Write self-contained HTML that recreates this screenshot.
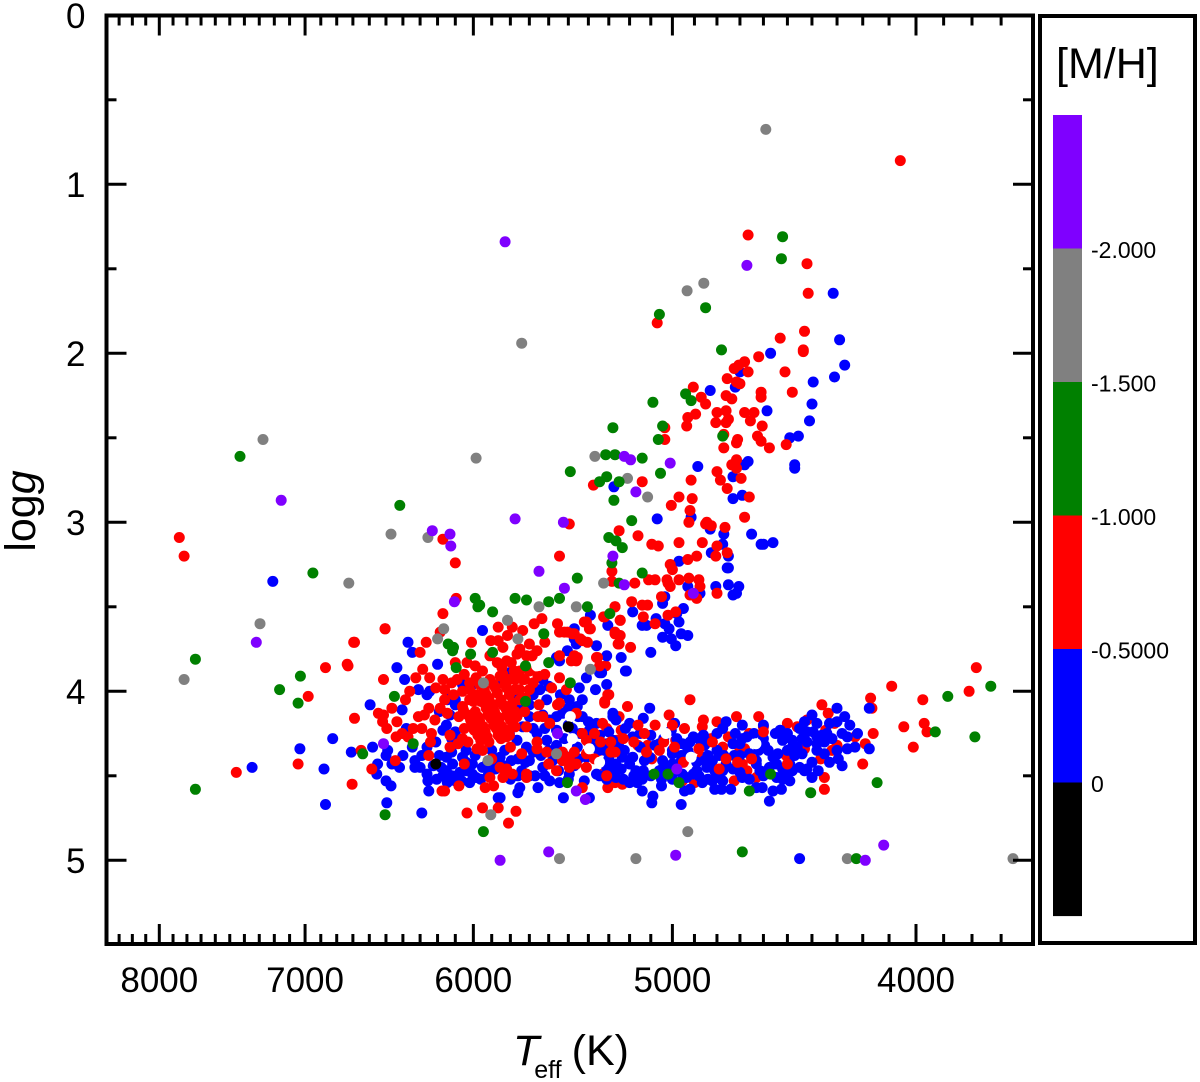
<!DOCTYPE html>
<html lang="en">
<head>
<meta charset="utf-8">
<title>Teff vs log g diagram</title>
<style>
html,body{margin:0;padding:0;background:#fff;}
svg{display:block;font-family:"Liberation Sans",Arial,sans-serif;}
</style>
</head>
<body>
<svg id="chart" width="1200" height="1082" viewBox="0 0 1200 1082" xmlns="http://www.w3.org/2000/svg">
  <rect x="0" y="0" width="1200" height="1082" fill="#fff"/>
  <g id="points"></g>
  <rect x="106.5" y="15.5" width="926.5" height="928.5" fill="none" stroke="#000" stroke-width="4"/>
  <g id="ticks"></g>
  <text transform="translate(35,511) rotate(-90)" text-anchor="middle" font-size="43">log<tspan font-style="italic">g</tspan></text>
  <text x="513" y="1065" font-size="43"><tspan font-style="italic">T</tspan><tspan font-size="25" dx="-5" dy="13">eff</tspan><tspan dx="10" dy="-13">(K)</tspan></text>
  <g>
    <rect x="1040" y="16" width="155" height="927" fill="#fff" stroke="#000" stroke-width="4"/>
    <text x="1056" y="78" font-size="43">[M/H]</text>
    <g id="legend"></g>
  </g>
</svg>
<script>
// ---- chart data ----
const xTickLabels = [8000, 7000, 6000, 5000, 4000];
const yTickLabels = [0, 1, 2, 3, 4, 5];
const legendLabels = ["-2.000", "-1.500", "-1.000", "-0.5000", "0"];
const legendColors = ["#7f00ff", "#808080", "#008000", "#ff0000", "#0000ff", "#000000"];

// Each entry: [Teff in K, log g]
const redDwarfBand = [[5195,3.74],[5255,3.72],[5315,3.85],[5305,4.02],[5320,4.07],[5210,4.09],[4920,4.05],[5015,4.14],[4860,4.17],[4865,4.21],[4800,4.18],[4715,4.15],[4620,4.15],[4600,4.21],[4660,4.25],[4360,4.08],[4335,4.13],[4500,4.19],[4460,4.21],[4420,4.17],[4310,4.19],[4345,4.23],[4230,4.27],[4190,4.31],[4160,4.25],[4170,4.04],[4090,3.97],[4300,4.32],[4320,4.35],[4365,4.4],[4430,4.34],[4200,4.43],[4350,4.51],[4350,4.58],[4505,4.38],[4825,4.28],[4775,4.33],[4750,4.27],[4700,4.35],[4680,4.34],[4690,4.43],[4670,4.47],[4630,4.51],[4725,4.53],[4945,4.22],[4865,4.39],[4900,4.54],[4955,4.53],[5080,4.2],[5115,4.32],[5160,4.32],[5095,4.4],[5240,4.23],[5250,4.15],[5310,4.22],[5260,4.29],[5345,4.35],[5275,4.36],[5330,4.49],[5305,4.57],[5270,4.54],[5235,4.55],[4985,4.29]];

const redOutliers = [[4058,0.86],[4665,1.30],[4420,1.47],[4415,1.645],[5070,1.82],[4430,1.87],[4530,1.91],[4435,1.99],[7855,3.09],[7820,3.2],[7455,4.48],[7045,4.43],[6980,4.03],[6870,3.86],[6735,3.84],[6695,3.71],[6505,3.63],[6095,3.45],[6100,3.24],[6170,3.1],[6705,4.55],[3785,3.86],[3810,4.0],[3975,4.05],[4045,4.21],[3970,4.19],[3960,4.24],[4010,4.33],[4165,4.1]];

const blueStars = [[4315,1.645],[4290,1.92],[7210,3.35],[7348,4.45],[7033,4.34],[6880,4.46],[6870,4.67],[4450,4.99],
[5100,3.77],[4985,3.73],[5240,3.8],[5310,3.79],[5220,3.88],[5310,3.96],[5345,3.89],[5280,4.15],[5200,4.19],[5135,4.16],[5105,4.1],[5185,4.27],[5280,4.29],[5265,4.43],[5310,4.45],[5185,4.39],[5135,4.47],[5050,4.56],[5090,4.62],[5095,4.66],[5140,4.59],[5200,4.54],[5165,4.54],[4990,4.19],[5005,4.23],[4955,4.31],[4905,4.27],[5060,4.31],[5045,4.41],[5000,4.37],[5030,4.47],[4955,4.49],[4905,4.49],[4935,4.51],[4875,4.33],[4820,4.41],[4775,4.22],[4760,4.18],[4690,4.2],[4690,4.28],[4730,4.31],[4770,4.38],[4730,4.46],[4775,4.47],[4820,4.53],[4865,4.54],[4775,4.53],[4810,4.58],[4780,4.58],[4740,4.58],[4690,4.51],[4630,4.57],[4605,4.57],[4630,4.41],[4600,4.28],[4560,4.39],[4585,4.47],[4545,4.51],[4510,4.49],[4520,4.52],[4525,4.58],[4560,4.59],[4575,4.65],[4960,4.67],[4945,4.59],[4920,4.58],[4530,4.23],[4520,4.29],[4480,4.29],[4480,4.33],[4440,4.37],[4490,4.43],[4450,4.45],[4400,4.42],[4430,4.18],[4400,4.14],[4300,4.1],[4330,4.19],[4380,4.19],[4420,4.24],[4380,4.27],[4360,4.26],[4380,4.31],[4380,4.35],[4280,4.25],[4250,4.2],[4220,4.25],[4260,4.34],[4175,4.34],[4175,4.1],[4295,4.4],[4280,4.44],[4375,4.47],[4400,4.51],[5265,4.51],[5295,4.49],[5250,4.33],[5150,4.33],[5105,4.39],[4985,4.47],[4890,4.47],[4845,4.45],[4700,4.31],[4670,4.27],[4630,4.43],[4575,4.45],[4520,4.27],[4545,4.43],[5225,4.35],[5080,4.32],[4920,4.38],[4855,4.41],[4790,4.38],[4725,4.38],[5040,4.44],[5320,4.35],[5130,4.41],[4810,4.47],[4855,4.32],[4615,4.47],[4470,4.38],[4595,4.32],[4430,4.47],[4490,4.53],
[5805,3.89],[5840,3.95],[5780,4.04],[5645,3.99],[5630,3.93],[5560,3.8],[5545,3.82],[5505,3.76],[5460,3.72],[5360,3.73],[5215,3.88],[5335,3.89],[5410,3.92],[5365,3.99],[5445,3.98],[5430,4.05],[5495,4.05],[5610,4.05],[5630,4.14],[5700,4.15],[5735,4.21],[5765,4.29],[5715,4.33],[5660,4.25],[5610,4.29],[5580,4.41],[5630,4.45],[5700,4.41],[5595,4.53],[5545,4.54],[5495,4.49],[5455,4.33],[5410,4.39],[5360,4.49],[5280,4.47],[5235,4.39],[5280,4.13],[5360,4.19],[5430,4.15],[5455,4.09],[5530,4.13],[5560,4.23],[5380,4.33],[5310,4.31],[5265,4.17],[6145,4.05],[6100,4.05],[5980,4.15],[5805,4.25],[5925,4.43],[5855,4.39],[5740,4.47],[5795,4.41],[5670,4.5],[5470,4.44],[5420,4.53],[5520,4.38],[5345,4.26],[5345,4.5],[5395,4.23],[5595,4.17],
[6370,3.71],[6345,3.77],[6435,3.86],[6390,3.93],[6200,3.84],[5950,3.64],[6595,4.08],[6405,4.11],[6825,4.28],[6710,4.36],[6580,4.33],[6500,4.38],[6490,4.35],[6550,4.43],[6555,4.49],[6465,4.43],[6500,4.53],[6470,4.56],[6495,4.66],[6330,4.41],[6330,4.45],[6260,4.37],[6260,4.49],[6255,4.53],[6250,4.59],[6290,4.72],[6345,4.33],[6380,4.22],[6310,3.99],[6260,4.02],[6245,4.0],[6120,4.03],[6100,4.08],[6060,3.96],[6005,3.96],[6130,4.14],[6170,4.23],[6100,4.24],[6210,4.3],[6260,4.33],[6150,4.39],[6115,4.43],[6060,4.39],[6005,4.43],[6150,4.47],[6075,4.48],[6005,4.49],[6020,4.54],[6145,4.54],[5985,4.51],[5890,4.4],[6170,4.5],[6100,4.53],[5855,4.63],[5865,4.63],[5760,4.6],[5750,4.57],[5655,4.57],[5525,4.63],[5395,4.63],
[4570,2.0],[4270,2.07],[4310,2.14],[4395,2.17],[4700,2.11],[4720,2.2],[4830,2.22],[4400,2.3],[4585,2.34],[4410,2.4],[4455,2.49],[4490,2.5],[4665,2.64],[4680,2.66],[4470,2.66],[4470,2.68],[4885,2.67],[4730,2.73],[5275,2.79],[4730,2.86],[4690,2.84],[5070,2.98],[4915,2.97],[4650,3.07],[4610,3.13],[4600,3.13],[4560,3.12],[4830,3.04],[4770,3.07],[4775,3.13],[4750,3.2],[4825,3.18],[4970,3.23],[4755,3.27],[4750,3.27],[4930,3.38],[4805,3.38],[4750,3.37],[4705,3.38],[4715,3.42],[4730,3.43],[4875,3.42],[5035,3.44],[5045,3.48],[5185,3.53],[4950,3.51],[4980,3.54],[5390,3.55],[5305,3.61],[5470,3.63],[5140,3.61],[5120,3.61],[5075,3.57],[5035,3.6],[5015,3.63],[4970,3.59],[4960,3.66],[4930,3.67],[5045,3.68],[5005,3.69],[5470,3.69]];

const blueDense = [[6190,4.12],[6150,4.2],[6120,4.28],[6080,4.3],[6040,4.35],[5990,4.38],[5950,4.45],[5905,4.47],[6040,4.47],[6120,4.36],[6190,4.38],[6225,4.44],[6205,4.52],[6120,4.5],[6065,4.53],[6040,4.42],[5960,4.52],[5920,4.5],[5880,4.46],[5835,4.44],[5800,4.52],[5760,4.5],[5720,4.42],[5680,4.36],[5640,4.38],[5600,4.35],[5560,4.32],[5520,4.28],[5480,4.22],[5440,4.25],[5400,4.3],[5350,4.35],[5300,4.4],[5240,4.46],[5200,4.43],[5170,4.47],[5140,4.52],[5100,4.5],[5060,4.47],[5000,4.43],[4965,4.42],[4930,4.35],[4890,4.42],[4840,4.38],[4800,4.35],[4760,4.43],[4700,4.38],[4660,4.37],[4620,4.35],[4580,4.35],[4540,4.37],[4500,4.35],[4460,4.33],[4420,4.3],[4350,4.3],[4320,4.28],[4300,4.35],[4230,4.33],[4260,4.27],[4340,4.25],[4395,4.24],[4440,4.28],[4500,4.25],[4550,4.25],[4640,4.25],[4720,4.25],[4800,4.25],[4860,4.26],[4920,4.3],[4980,4.28],[5040,4.28],[5100,4.26],[5150,4.25],[5220,4.22],[5300,4.24],[5360,4.27],[5400,4.18],[5450,4.15],[5500,4.1],[5540,4.02],[5600,3.97],[5680,4.02],[5700,4.08],[5760,4.08],[5680,4.22],[5620,4.22],[5560,4.15],[5500,4.2],[5450,4.4],[5500,4.52],[5550,4.47],[5620,4.5],[5700,4.5],[5760,4.4],[5830,4.35],[5900,4.35],[5830,4.5],[5310,4.52],[5230,4.52],[5180,4.5],[5050,4.52],[5000,4.52],[4880,4.5],[4840,4.52],[4800,4.5],[4700,4.48],[4660,4.52],[4600,4.5],[4520,4.46],[4480,4.47],[4420,4.46],[4330,4.42],[4350,4.37],[4300,4.18],[4270,4.15],[4450,4.22],[4600,4.2],[5000,4.35],[4960,4.38],[4880,4.28],[4840,4.3],[6180,4.45],[6290,4.38],[6300,4.45],[6400,4.38],[6420,4.45]];

const redGiantBranch = [[4620,2.02],[4435,1.98],[4680,2.05],[4705,2.07],[4725,2.09],[4665,2.11],[4755,2.15],[4715,2.17],[4700,2.18],[4510,2.11],[4480,2.23],[4610,2.23],[4610,2.26],[4905,2.2],[4870,2.26],[4850,2.3],[4760,2.25],[4735,2.27],[4800,2.35],[4760,2.34],[4680,2.35],[4640,2.35],[4895,2.36],[4930,2.38],[4805,2.41],[4750,2.39],[4760,2.41],[4655,2.4],[4605,2.43],[4935,2.43],[5035,2.44],[5035,2.51],[4770,2.48],[4710,2.51],[4715,2.53],[4625,2.49],[4610,2.52],[4575,2.56],[4505,2.54],[4770,2.56],[4715,2.63],[4735,2.66],[4715,2.68],[4695,2.74],[4800,2.7],[4785,2.75],[4915,2.75],[4755,2.8],[4660,2.85],[5140,2.76],[5375,2.78],[4970,2.85],[4910,2.86],[5005,2.9],[4920,2.93],[4925,3.0],[4845,3.0],[4850,3.01],[4825,3.02],[4680,2.97],[4765,3.03],[5495,3.01],[5250,3.05],[5160,3.08],[5095,3.13],[5065,3.14],[4970,3.12],[4865,3.12],[4800,3.14],[5545,3.2],[4755,3.18],[4805,3.2],[4890,3.2],[4930,3.22],[5010,3.25],[5000,3.28],[5285,3.29],[5285,3.35],[5175,3.36],[5110,3.34],[5080,3.34],[5025,3.34],[5020,3.36],[5010,3.38],[4970,3.34],[4925,3.33],[4880,3.34],[4875,3.38],[4920,3.43],[4890,3.45],[4800,3.42],[5050,3.44],[5190,3.47],[5140,3.49],[5115,3.49],[5270,3.5],[5135,3.56],[5325,3.56],[5245,3.58],[5020,3.55],[4985,3.53],[5080,3.6],[5410,3.59],[5390,3.63],[5270,3.66],[5245,3.67],[5520,3.65],[5480,3.66],[5440,3.69]];

const redCore = [[6170,3.54],[6505,3.63],[6690,3.71],[6730,3.85],[6515,3.93],[6265,3.71],[6300,3.77],[6185,3.65],[6010,3.71],[5865,3.62],[5790,3.62],[5905,3.7],[5865,3.7],[5840,3.74],[5815,3.67],[5735,3.64],[5675,3.6],[5635,3.57],[5700,3.72],[5660,3.76],[5620,3.71],[5750,3.75],[5715,3.79],[5685,3.79],[5765,3.78],[5555,3.6],[5545,3.65],[5505,3.65],[5470,3.66],[5420,3.59],[5395,3.63],[5430,3.7],[5405,3.71],[5270,3.5],[5320,3.56],[5245,3.58],[5270,3.65],[5250,3.67],[5250,3.72],[5470,3.79],[5485,3.82],[5455,3.8],[5360,3.8],[5345,3.85],[5910,3.79],[5870,3.83],[5845,3.86],[5820,3.82],[5795,3.83],[6035,3.83],[5990,3.85],[6100,3.83],[5985,3.92],[6020,3.95],[6090,3.93],[6170,3.93],[6285,3.87],[6245,3.92],[6325,3.92],[6210,3.98],[6160,3.99],[6160,4.05],[6360,4.0],[6385,4.05],[6465,4.1],[6545,4.13],[6515,4.14],[6520,4.18],[6495,4.22],[6435,4.18],[6405,4.25],[6370,4.27],[6690,4.16],[6310,4.15],[6250,4.1],[6275,4.14],[6215,4.17],[6185,4.1],[6145,4.13],[6290,4.22],[6235,4.25],[6080,4.15],[6050,4.22],[6130,4.33],[6085,4.31],[6030,4.3],[5980,4.34],[5950,4.35],[6050,4.43],[6445,4.41],[6650,4.35],[6585,4.46],[6175,4.59],[6160,4.59],[6080,4.56],[6035,4.72],[5950,4.69],[5865,4.69],[5770,4.71],[5810,4.78],[5935,4.57],[5890,4.56],[5840,4.51],[5790,4.49],[5910,4.51],[5855,4.45],[5820,4.46],[5715,4.49],[5715,4.51],[5430,4.57],
[6020,4.05],[5960,4.06],[5915,4.04],[5850,4.05],[5805,4.02],[6055,4.11],[5990,4.12],[5930,4.1],[5885,4.12],[5825,4.1],[5775,4.12],[6015,4.17],[5965,4.18],[5905,4.16],[5860,4.18],[5800,4.17],[5995,4.23],[5935,4.24],[5875,4.22],[5835,4.24],[5960,4.29],[5915,4.3],[5850,4.28],[5805,4.26],[5940,3.99],[5880,3.98],[5830,3.96],[5775,3.93],[5750,3.88],[5725,3.93],[5700,3.99],[5750,4.05],[5725,4.12],[5775,3.99],[5805,3.93],[5855,3.91],[5910,3.93],[5965,3.96],[6020,3.99],
[5735,3.93],[5750,3.99],[5655,3.91],[5585,3.98],[5510,3.99],[5545,3.92],[5545,4.07],[5630,4.15],[5595,4.19],[5655,4.15],[5715,4.21],[5775,4.21],[5660,4.34],[5495,4.39],[5530,4.41],[5460,4.43],[5410,4.45],[5560,4.47],[5495,4.45],[5610,4.36],[5430,4.25],[5410,4.29],[5330,4.19],[5270,4.36],[5545,3.79],[5460,3.82],[5320,4.06],[5300,4.02],[5355,3.8],[5555,4.08],[5460,4.13]];

const redDense = [[6060,4.09],[6000,4.06],[5940,4.07],[5890,4.08],[5840,4.08],[5790,4.07],[6030,4.14],[5975,4.15],[5920,4.14],[5870,4.15],[5820,4.14],[5765,4.15],[6000,4.2],[5945,4.21],[5890,4.2],[5845,4.21],[5790,4.21],[5975,4.26],[5925,4.27],[5865,4.26],[5820,4.27],[5985,4.02],[5930,4.02],[5870,4.01],[5820,3.98],[5890,3.96],[5840,3.9],[5780,3.88],[5700,3.88],[5680,3.95],[5620,3.9],[5950,3.88],[6050,3.9],[6120,3.95],[6110,4.02],[6060,4.0],[5720,4.04],[5650,4.08],[5660,4.3],[5530,4.36],[5470,4.36],[5600,4.43],[5370,4.4],[5370,4.25],[5290,4.3],[5900,4.4],[5800,4.33],[5740,4.37],[6060,4.28],[6130,4.26],[6240,4.3],[6340,4.22],[6440,4.27],[6250,4.38]];

const redBandTop = [[5230,4.28],[5180,4.3],[5120,4.36],[5060,4.35],[4990,4.33],[4880,4.34],[4760,4.4],[4710,4.42],[4650,4.4],[5290,4.36],[5340,4.3],[5130,4.25],[5040,4.3],[4950,4.42],[4820,4.3],[4790,4.46],[5310,4.5],[5160,4.2],[5410,4.37],[4600,4.24],[4500,4.43],[5000,4.2]];

const greenStars = [[5060,1.77],[4520,1.31],[4525,1.44],[4850,1.73],[4780,1.98],[7430,2.61],[6418,2.9],[6950,3.3],[7740,3.81],[7165,3.99],[7030,3.91],[7045,4.07],[7740,4.58],[6505,4.73],[5945,4.83],[4690,4.95],[4225,4.99],[3790,4.27],[3735,3.97],[3885,4.03],[3930,4.24],[4145,4.54],[4405,4.6],[4660,4.59],[4570,4.49],[5085,4.49],[5020,4.49],[4970,4.54],[5090,2.29],[4940,2.24],[4915,2.28],[5045,2.43],[5065,2.51],[5280,2.44],[5315,2.6],[5270,2.6],[5140,2.62],[5490,2.7],[5345,2.76],[5310,2.73],[5250,2.76],[5055,2.71],[5275,2.87],[5190,2.99],[4775,2.49],[5300,3.09],[5265,3.11],[5235,3.15],[5285,3.24],[5140,3.3],[5455,3.33],[5250,3.36],[5405,3.5],[5295,3.54],[5545,3.45],[5990,3.45],[5965,3.49],[5895,3.53],[5715,3.46],[5775,3.45],[6110,3.74],[6140,3.72],[6115,3.76],[6015,3.78],[6095,3.86],[6450,4.03],[6340,4.31],[6640,4.37],[5975,3.5],[5625,3.66],[5600,3.47],[5895,3.77],[5720,3.85],[5600,3.83],[5720,4.06],[5490,3.95],[5505,4.54]];

const grayStars = [[4590,0.675],[4933,1.63],[4858,1.585],[5740,1.94],[7275,2.51],[5985,2.62],[6470,3.07],[6255,3.09],[6725,3.36],[7295,3.6],[7820,3.93],[5905,4.73],[4930,4.83],[5545,4.99],[5170,4.99],[4260,4.99],[3660,4.99],[5368,2.61],[5210,2.74],[5115,2.85],[5325,3.36],[5460,3.5],[5650,3.5],[5815,3.58],[6165,3.63],[6200,3.69],[5760,3.69],[5945,3.95],[5390,3.87],[5920,4.41],[5560,4.37]];

const purpleStars = [[5828,1.34],[4670,1.48],[7155,2.87],[6230,3.05],[6130,3.07],[6125,3.14],[5775,2.98],[5525,3.0],[7320,3.71],[5650,3.29],[5520,3.39],[5280,3.2],[5225,3.37],[5225,2.61],[5195,2.63],[5010,2.65],[5170,2.82],[4905,3.42],[6105,3.47],[5855,5.0],[5600,4.95],[4985,4.97],[4190,5.0],[4120,4.91],[6515,4.31],[5555,4.25],[5460,4.59],[5415,4.64],[4980,4.46]];

const blackStars = [[6210,4.43],[5500,4.21]];

const whiteStars = [[5662,3.85],[5490,4.15],[5480,4.28],[5395,4.34],[5345,4.42],[5030,4.25],[4915,4.39],[4632,4.31]];

// ---- axis functions ----
const svgNS = "http://www.w3.org/2000/svg";
function xScale(teff) { return 159.3 + 2513.7 * Math.log10(8000 / teff); }
function yScale(logg) { return 15.3 + 169 * logg; }

function make(parent, tag, attrs) {
  const el = document.createElementNS(svgNS, tag);
  for (const k in attrs) el.setAttribute(k, attrs[k]);
  parent.appendChild(el);
  return el;
}

// ---- points ----
const pointsLayer = document.getElementById("points");
function drawSeries(points, color, seriesName) {
  const group = make(pointsLayer, "g", {});
  
  
  points.forEach(function (p) {
    const dot = make(group, "circle", { cx: xScale(p[0]).toFixed(1), cy: yScale(p[1]).toFixed(1), r: 5.5, fill: color });
    
    
  });
}
drawSeries(redDwarfBand, "#ff0000", "series-red-dwarf-band");
drawSeries(redOutliers, "#ff0000", "series-red-outliers");
drawSeries(blueStars, "#0000ff", "series-blue");
drawSeries(blueDense, "#0000ff", "series-blue-dense");
drawSeries(redBandTop, "#ff0000", "series-red-band-top");
drawSeries(redGiantBranch, "#ff0000", "series-red-giant-branch");
drawSeries(redCore, "#ff0000", "series-red-core");
drawSeries(redDense, "#ff0000", "series-red-dense");
drawSeries(grayStars, "#808080", "series-gray");
drawSeries(greenStars, "#008000", "series-green");
drawSeries(purpleStars, "#7f00ff", "series-purple");
drawSeries(whiteStars, "#ffffff", "series-white");
drawSeries(blackStars, "#000000", "series-black");

// ---- ticks ----
const ticksLayer = document.getElementById("ticks");
function tickLine(x1, y1, x2, y2) {
  const line = make(ticksLayer, "line", { x1: x1, y1: y1, x2: x2, y2: y2, stroke: "#000", "stroke-width": 3 });
  
  
}
function tickText(x, y, anchor, label) {
  const t = make(ticksLayer, "text", { x: x, y: y, "text-anchor": anchor, "font-size": 35 });
  
  
  t.textContent = label;
}
for (let teff = 8300; teff >= 3700; teff -= 100) {
  const major = xTickLabels.indexOf(teff) >= 0;
  const x = xScale(teff);
  const len = major ? 20 : 10;
  tickLine(x, 15.5, x, 15.5 + len);
  tickLine(x, 944, x, 944 - len);
}
xTickLabels.forEach(function (v) { tickText(xScale(v), 992, "middle", v); });
for (let g = 0.5; g <= 5; g += 0.5) {
  const major = Number.isInteger(g);
  const y = yScale(g);
  const len = major ? 20 : 10;
  tickLine(106.5, y, 106.5 + len, y);
  tickLine(1033, y, 1033 - len, y);
}
yTickLabels.forEach(function (v) { tickText(85.5, yScale(v) + 12.5, "end", v); });

// ---- legend ----
const legendLayer = document.getElementById("legend");
legendColors.forEach(function (c, i) {
  const swatch = make(legendLayer, "rect", { x: 1053, y: 115 + i * 133.5, width: 29, height: 133.6, fill: c });
  
  
});
legendLabels.forEach(function (label, i) {
  const t = make(legendLayer, "text", { x: 1091, y: 258 + i * 133.5, "font-size": 23 });
  
  
  t.textContent = label;
});
</script>
</body>
</html>
